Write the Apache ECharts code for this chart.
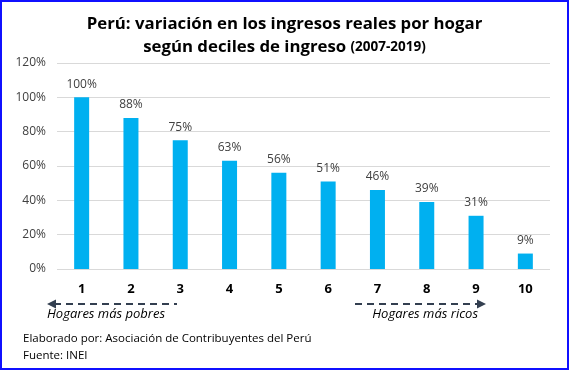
<!DOCTYPE html>
<html><head><meta charset="utf-8">
<script src="https://cdn.jsdelivr.net/npm/echarts@6/dist/echarts.min.js"></script>
<style>html,body{margin:0;padding:0;background:#fff}#c{width:569px;height:370px;box-sizing:border-box;border:2px solid #1010ff}</style>
</head><body><div id="c"></div>
<script>
const categories = ['1','2','3','4','5','6','7','8','9','10'];
const values = [100, 88, 75, 63, 56, 51, 46, 39, 31, 9];
const yTicks = [0, 20, 40, 60, 80, 100, 120];
const titleLine1 = 'Perú: variación en los ingresos reales por hogar';
const titleLine2a = 'según deciles de ingreso ';
const titleLine2b = '(2007-2019)';
const leftNote = 'Hogares más pobres';
const rightNote = 'Hogares más ricos';
const footer1 = 'Elaborado por: Asociación de Contribuyentes del Perú';
const footer2 = 'Fuente: INEI';

const chart = echarts.init(document.getElementById('c'));
const ff = '"Open Sans", "Noto Sans", sans-serif';
const arrowColor = '#333f50';
chart.setOption({
  animation: false,
  title: {
    text: '{a|' + titleLine1 + '}\n{a|' + titleLine2a + '}{b|' + titleLine2b + '}',
    left: 'center', top: 6,
    textStyle: {
      rich: {
        a: {fontFamily: ff, fontWeight: 'bold', fontSize: 16.8, color: '#000', lineHeight: 23},
        b: {fontFamily: ff, fontWeight: 'bold', fontSize: 13.5, color: '#000', lineHeight: 23}
      }
    }
  },
  grid: {left: 55, right: 17, top: 61, bottom: 99, containLabel: false},
  xAxis: {
    type: 'category', data: categories,
    axisLine: {show: false}, axisTick: {show: false},
    axisLabel: {fontFamily: ff, fontWeight: 'bold', fontSize: 13, color: '#000', margin: 14}
  },
  yAxis: {
    type: 'value', min: 0, max: 120, interval: 20,
    axisLabel: {formatter: v => v + '%', fontFamily: ff, fontSize: 12, color: '#404040', margin: 11},
    splitLine: {lineStyle: {color: '#d9d9d9', width: 1}},
    axisLine: {show: false}, axisTick: {show: false}
  },
  series: [{
    type: 'bar', data: values, barWidth: 15,
    itemStyle: {color: '#00b0f0'},
    label: {show: true, position: 'top', formatter: p => p.value + '%', fontFamily: ff, fontSize: 12, color: '#404040', distance: 7}
  }],
  graphic: [
    {type: 'line', shape: {x1: 52, y1: 302, x2: 175, y2: 302}, style: {stroke: arrowColor, lineWidth: 2, lineDash: [7, 5]}},
    {type: 'polygon', shape: {points: [[45, 302], [54, 297.5], [54, 306.5]]}, style: {fill: arrowColor}},
    {type: 'line', shape: {x1: 353, y1: 302, x2: 476, y2: 302}, style: {stroke: arrowColor, lineWidth: 2, lineDash: [7, 5]}},
    {type: 'polygon', shape: {points: [[484, 302], [475, 297.5], [475, 306.5]]}, style: {fill: arrowColor}},
    {type: 'text', left: 45, top: 306, style: {text: leftNote, font: 'italic 13px ' + ff, fill: '#000'}},
    {type: 'text', right: 89, top: 306, style: {text: rightNote, font: 'italic 13px ' + ff, fill: '#000'}},
    {type: 'text', left: 21, top: 331, style: {text: footer1, font: '11.5px ' + ff, fill: '#000'}},
    {type: 'text', left: 21, top: 348, style: {text: footer2, font: '11.5px ' + ff, fill: '#000'}}
  ]
});
</script></body></html>
